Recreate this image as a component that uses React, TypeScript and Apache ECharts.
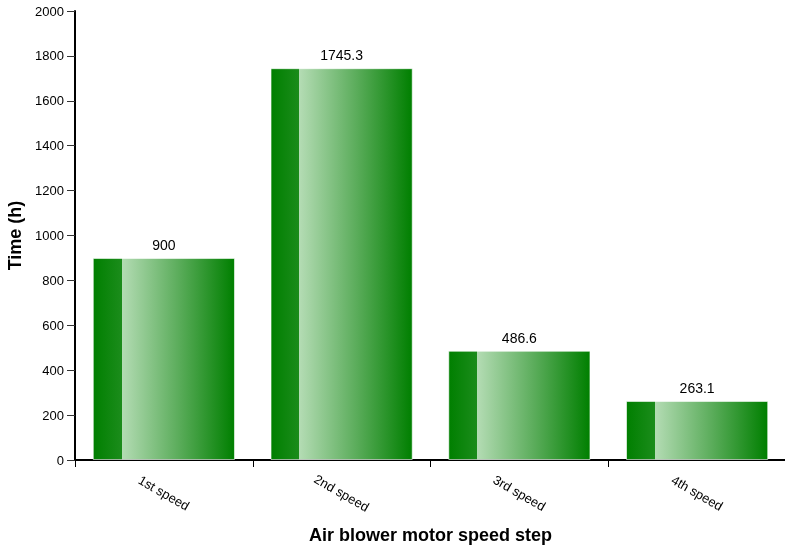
import React, { useEffect, useRef } from "react";
import * as echarts from "echarts";

const categories = ["1st speed", "2nd speed", "3rd speed", "4th speed"];
const values = [900, 1745.3, 486.6, 263.1];
const yTicks = { min: 0, max: 2000, interval: 200 };

export default function App() {
  const ref = useRef<HTMLDivElement>(null);
  useEffect(() => {
    const chart = echarts.init(ref.current!, undefined, { renderer: "svg" });
    const font = "Liberation Sans, Arial, sans-serif";
    const grad = new echarts.graphic.LinearGradient(0, 0, 1, 0, [
      { offset: 0, color: "#007f00" },
      { offset: 0.2, color: "#1b8c1b" },
      { offset: 0.2, color: "#b4dcb4" },
      { offset: 0.6, color: "#5cad5c" },
      { offset: 1, color: "#007f00" },
    ]);
    chart.setOption({
      animation: false,
      textStyle: { fontFamily: font },
      grid: {
        left: 75,
        top: 11,
        width: 711,
        height: 449,
        containLabel: false,
        outerBoundsMode: "none",
      },
      xAxis: {
        type: "category",
        data: categories,
        name: "Air blower motor speed step",
        nameLocation: "middle",
        nameGap: 66,
        nameTextStyle: { fontSize: 18, fontWeight: "bold", color: "#000", fontFamily: font },
        axisLine: { lineStyle: { color: "#000", width: 2 } },
        axisTick: { show: true, length: 7, lineStyle: { color: "#000", width: 1 } },
        axisLabel: {
          rotate: -30,
          align: "center",
          verticalAlign: "middle",
          margin: 33,
          fontSize: 13,
          color: "#000",
          fontFamily: font,
        },
      },
      yAxis: {
        type: "value",
        min: yTicks.min,
        max: yTicks.max,
        interval: yTicks.interval,
        name: "Time (h)",
        nameLocation: "middle",
        nameGap: 49,
        nameTextStyle: { fontSize: 18, fontWeight: "bold", color: "#000", fontFamily: font },
        axisLine: { show: true, lineStyle: { color: "#000", width: 2 } },
        axisTick: { show: true, length: 8, lineStyle: { color: "#333", width: 1 } },
        axisLabel: {
          fontSize: 13,
          color: "#000",
          margin: 11,
          fontFamily: font,
          formatter: (v: number) => String(v),
        },
        splitLine: { show: false },
      },
      series: [
        {
          type: "bar",
          data: values,
          barCategoryGap: "20%",
          itemStyle: {
            color: grad,
            borderColor: "rgba(255,255,255,0.6)",
            borderWidth: 1,
          },
          label: {
            show: true,
            position: "top",
            distance: 6,
            fontSize: 14,
            color: "#000",
            fontFamily: font,
          },
        },
      ],
    });
    return () => chart.dispose();
  }, []);
  return (
    <div
      ref={ref}
      style={{ position: "fixed", left: 0, top: 0, width: 785, height: 550 }}
    />
  );
}
